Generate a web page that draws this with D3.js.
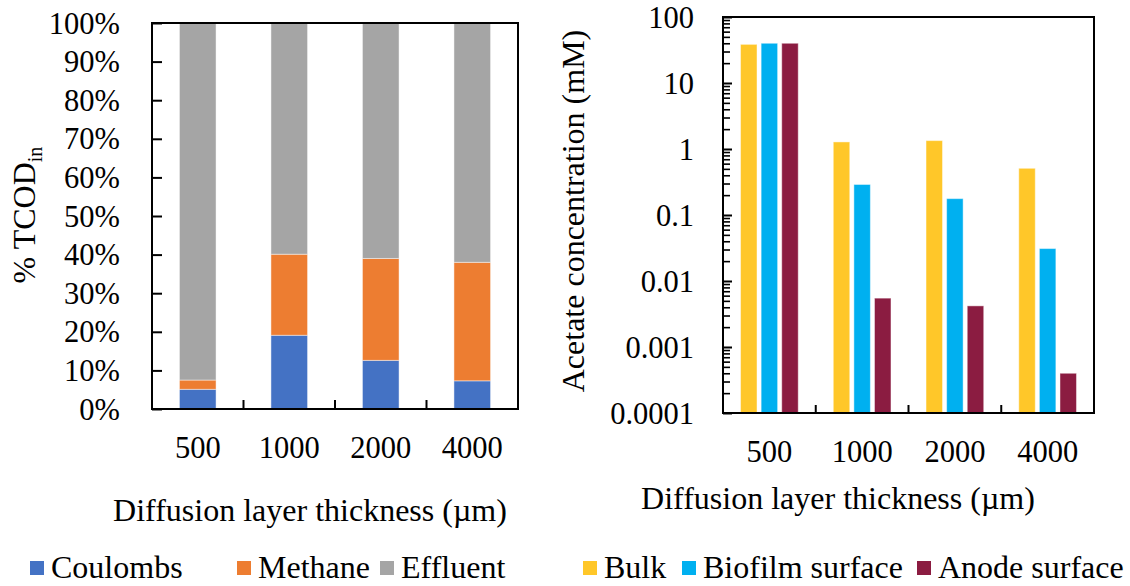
<!DOCTYPE html>
<html>
<head>
<meta charset="utf-8">
<script src="https://cdn.jsdelivr.net/npm/d3@7"></script>
<style>
  html, body { margin: 0; padding: 0; background: #fff; }
  svg { display: block; }
  svg text { font-family: "Liberation Serif", "Times New Roman", serif; }
</style>
</head>
<body>
<svg id="chart" width="1130" height="586"></svg>
<script>
// Diffusion layer thickness categories (µm)
const thickness = ["500", "1000", "2000", "4000"];

// Left panel: fate of influent TCOD (% of TCOD_in)
const coulombs = [5.1, 19.1, 12.6, 7.3];
const methane  = [2.4, 21.0, 26.4, 30.7];
const effluent = [92.5, 59.9, 61.0, 62.0];
const codSeries = ["Coulombs", "Methane", "Effluent"];
const codColors = ["#4472C4", "#ED7D31", "#A5A5A5"];
const pctTicks = [0, 10, 20, 30, 40, 50, 60, 70, 80, 90, 100];

// Right panel: acetate concentration (mM), log scale
const bulk    = [38.5, 1.28, 1.34, 0.51];
const biofilm = [40, 0.29, 0.177, 0.031];
const anode   = [40, 0.0055, 0.0042, 0.0004];
const acSeries = ["Bulk", "Biofilm surface", "Anode surface"];
const acColors = ["#FFC729", "#00B0F0", "#8B1C41"];
const logTicks = [0.0001, 0.001, 0.01, 0.1, 1, 10, 100];

const svg = d3.select("#chart");
const FONT = "Liberation Serif";
const NUM = 30.5;   // tick numbers
const WORD = 32;    // titles and legend

function label(g, x, y, txt, size, anchor) {
  return g.append("text").attr("x", x).attr("y", y)
    .attr("font-family", FONT).attr("font-size", size)
    .attr("text-anchor", anchor || "start").text(txt);
}

// ---------- Left panel: stacked percentage bars ----------
const L = { left: 152, right: 518, top: 23, bottom: 409 };
const xL = d3.scaleBand().domain(thickness).range([L.left, L.right]).paddingInner(0.6).paddingOuter(0.3);
const xLb = d3.scaleBand().domain(thickness).range([L.left, L.right]);
const yL = d3.scaleLinear().domain([0, 100]).range([L.bottom, L.top]);

const codRows = thickness.map((t, i) => ({ t, Coulombs: coulombs[i], Methane: methane[i], Effluent: effluent[i] }));
const stacked = d3.stack().keys(codSeries)(codRows);

const gL = svg.append("g");
gL.selectAll("g.layer").data(stacked).join("g")
  .attr("fill", (d, i) => codColors[i])
  .selectAll("rect").data(d => d).join("rect")
  .attr("x", d => xL(d.data.t))
  .attr("width", xL.bandwidth())
  .attr("y", d => yL(Math.min(d[1], 100)))
  .attr("height", d => yL(d[0]) - yL(Math.min(d[1], 100)))
  .attr("stroke", "#ffffff").attr("stroke-opacity", 0.45).attr("stroke-width", 1);

// frame
gL.append("rect").attr("x", L.left).attr("y", L.top)
  .attr("width", L.right - L.left).attr("height", L.bottom - L.top)
  .attr("fill", "none").attr("stroke", "#000").attr("stroke-width", 2);

// y axis (ticks inward)
const yAxL = gL.append("g").attr("transform", `translate(${L.left},0)`)
  .call(d3.axisRight(yL).tickValues(pctTicks).tickSize(10).tickFormat(""));
yAxL.select(".domain").remove();
yAxL.selectAll("line").attr("stroke", "#000").attr("stroke-width", 2);
pctTicks.forEach(v => label(gL, 120, yL(v), v + "%", NUM, "end").attr("dy", "0.35em"));

// x ticks at category boundaries, pointing up
thickness.slice(1).forEach(t => {
  gL.append("line").attr("x1", xLb(t)).attr("x2", xLb(t))
    .attr("y1", L.bottom).attr("y2", L.bottom - 9)
    .attr("stroke", "#000").attr("stroke-width", 2);
});
thickness.forEach(t => label(gL, xLb(t) + xLb.bandwidth() / 2, 458, t, NUM, "middle"));

label(gL, 310, 521, "Diffusion layer thickness (µm)", WORD, "middle");

const yTitleL = gL.append("text").attr("transform", "translate(35,215) rotate(-90)")
  .attr("text-anchor", "middle").attr("font-family", FONT).attr("font-size", WORD);
yTitleL.append("tspan").text("% TCOD");
yTitleL.append("tspan").attr("font-size", 20).attr("dy", 7).text("in");

// legend
const legL = [30, 237, 380];
codSeries.forEach((s, i) => {
  gL.append("rect").attr("x", legL[i]).attr("y", 561).attr("width", 14).attr("height", 14).attr("fill", codColors[i]);
  label(gL, legL[i] + 21, 578, s, WORD);
});

// ---------- Right panel: grouped bars on log axis ----------
const R = { left: 723, right: 1094, top: 17, bottom: 413 };
const xR = d3.scaleBand().domain(thickness).range([R.left, R.right]);
const groupW = 57.7;
const xSub = d3.scaleBand().domain(acSeries).range([0, groupW]).paddingInner(0.2);
const yR = d3.scaleLog().domain([0.0001, 100]).range([R.bottom, R.top]);

const acValues = [bulk, biofilm, anode];
const gR = svg.append("g");
acSeries.forEach((s, si) => {
  gR.selectAll(null).data(thickness).join("rect")
    .attr("x", d => xR(d) + (xR.bandwidth() - groupW) / 2 + xSub(s))
    .attr("width", xSub.bandwidth())
    .attr("y", (d, i) => yR(acValues[si][i]))
    .attr("height", (d, i) => R.bottom - yR(acValues[si][i]))
    .attr("fill", acColors[si])
    .attr("stroke", "#ffffff").attr("stroke-opacity", 0.45).attr("stroke-width", 1);
});

gR.append("rect").attr("x", R.left).attr("y", R.top)
  .attr("width", R.right - R.left).attr("height", R.bottom - R.top)
  .attr("fill", "none").attr("stroke", "#000").attr("stroke-width", 2);

// major and minor ticks, inward
const minorTicks = [];
logTicks.slice(0, -1).forEach(p => { for (let k = 2; k <= 9; k++) minorTicks.push(p * k); });
const yAxMin = gR.append("g").attr("transform", `translate(${R.left},0)`)
  .call(d3.axisRight(yR).tickValues(minorTicks).tickSize(7).tickFormat(""));
yAxMin.select(".domain").remove();
yAxMin.selectAll("line").attr("stroke", "#000").attr("stroke-width", 1.6);
const yAxMaj = gR.append("g").attr("transform", `translate(${R.left},0)`)
  .call(d3.axisRight(yR).tickValues(logTicks).tickSize(9).tickFormat(""));
yAxMaj.select(".domain").remove();
yAxMaj.selectAll("line").attr("stroke", "#000").attr("stroke-width", 2);

logTicks.forEach(v => label(gR, 694, yR(v), String(v), NUM, "end").attr("dy", "0.35em"));

thickness.slice(1).forEach(t => {
  gR.append("line").attr("x1", xR(t)).attr("x2", xR(t))
    .attr("y1", R.bottom).attr("y2", R.bottom - 8)
    .attr("stroke", "#000").attr("stroke-width", 2);
});
thickness.forEach(t => label(gR, xR(t) + xR.bandwidth() / 2, 462, t, NUM, "middle"));

label(gR, 838, 509, "Diffusion layer thickness (µm)", WORD, "middle");

gR.append("text").attr("transform", "translate(584,211) rotate(-90)")
  .attr("text-anchor", "middle").attr("font-family", FONT).attr("font-size", WORD)
  .text("Acetate concentration (mM)");

const legR = [583, 682, 917];
acSeries.forEach((s, i) => {
  gR.append("rect").attr("x", legR[i]).attr("y", 561).attr("width", 14).attr("height", 14).attr("fill", acColors[i]);
  label(gR, legR[i] + 21, 578, s, WORD);
});
</script>
</body>
</html>
